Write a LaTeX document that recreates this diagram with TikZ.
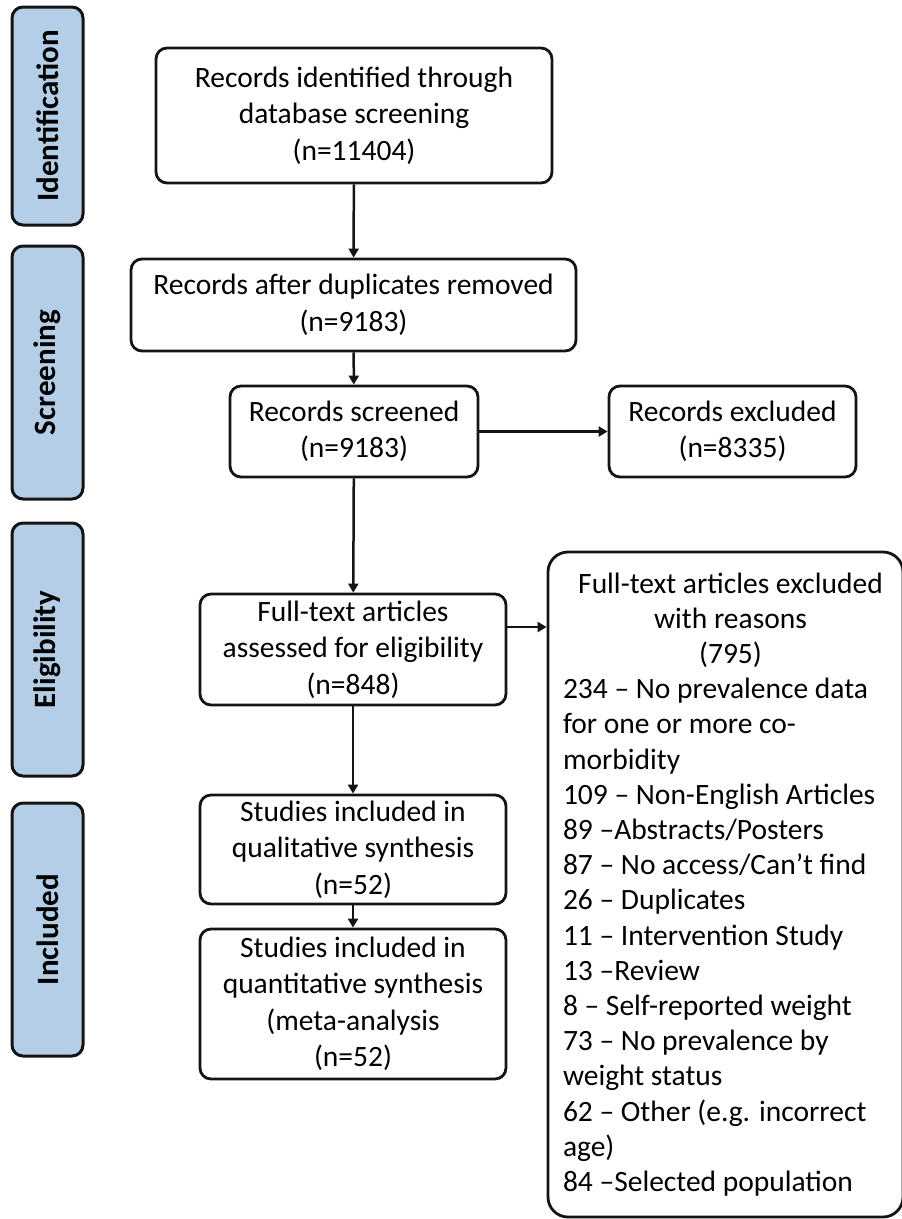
\documentclass[tikz,border=0pt]{standalone}
\usepackage{fontspec}
\setmainfont{Carlito}
\usetikzlibrary{arrows.meta}
\definecolor{barblue}{RGB}{181,206,231}
\definecolor{edge}{RGB}{20,20,20}
\begin{document}
\begin{tikzpicture}[x=1pt,y=-1pt,
  box/.style={draw=edge, line width=2.8pt, rounded corners=11pt, align=center,
    font=\fontsize{29.5}{36.5}\selectfont, inner sep=0pt},
  bar/.style={draw=edge, line width=3pt, fill=barblue, rounded corners=11pt,
    rotate=90, minimum height=71pt, inner sep=0pt,
    font=\bfseries\fontsize{31}{36}\selectfont},
  arr/.style={draw=edge, line width=2.5pt, -{Triangle[length=9pt,width=10pt]}}]
\useasboundingbox (0,0) rectangle (902,1219);

% phase bars
\node[bar, minimum width=218pt] (P1) at (47.5,116) {Identification};
\node[bar, minimum width=253pt] (P2) at (47.5,372.5) {Screening};
\node[bar, minimum width=253pt] (P3) at (47.5,649.5) {Eligibility};
\node[bar, minimum width=253pt] (P4) at (47.5,929.5) {Included};

% flow boxes
\node[box, minimum width=396pt, minimum height=135pt] (B1) at (354,115.5)
  {Records identified through\\database screening\\(n=11404)};
\node[box, minimum width=445pt, minimum height=92pt] (B2) at (353.5,305)
  {Records after duplicates removed\\(n=9183)};
\node[box, minimum width=248pt, minimum height=91pt] (B3) at (354,431.5)
  {Records screened\\(n=9183)};
\node[box, minimum width=247pt, minimum height=91pt] (B4) at (732.5,431.5)
  {Records excluded\\(n=8335)};
\node[box, minimum width=306pt, minimum height=111pt] (B5) at (353,649.5)
  {Full-text articles\\assessed for eligibility\\(n=848)};
\node[box, minimum width=306pt, minimum height=109pt] (B6) at (353,849.5)
  {Studies included in\\qualitative synthesis\\(n=52)};
\node[box, minimum width=306pt, minimum height=150pt] (B7) at (353,1004)
  {Studies included in\\quantitative synthesis\\(meta-analysis\\(n=52)};
\node[draw=edge, line width=2.8pt, rounded corners=20pt, inner sep=0pt,
  minimum width=355pt, minimum height=665pt] (B8) at (725.5,884.5)
  {\hspace*{10pt}\parbox[c]{335pt}{\fontsize{29.5}{35.2}\selectfont
   {\centering Full-text articles excluded\\with reasons\\(795)\par}
   {\raggedright 234 – No prevalence data\\for one or more co-\\morbidity\\
    109 – Non-English Articles\\89 –Abstracts/Posters\\87 – No access/Can’t find\\
    26 – Duplicates\\11 – Intervention Study\\13 –Review\\
    8 – Self-reported weight\\73 – No prevalence by\\weight status\\
    62 – Other (e.g. incorrect\\age)\\84 –Selected population\par}}};

% connectors
\draw[arr] (B1) -- (B2);
\draw[arr] (B2) -- (B3);
\draw[arr] (B3) -- (B4);
\draw[arr] (B3) -- (B5);
\draw[arr] (B5) -- (B6);
\draw[arr] (B6) -- (B7);
\draw[arr] ([yshift=22.5pt]B5.east) -- ([yshift=22.5pt]B5.east -| B8.west);
\end{tikzpicture}
\end{document}
